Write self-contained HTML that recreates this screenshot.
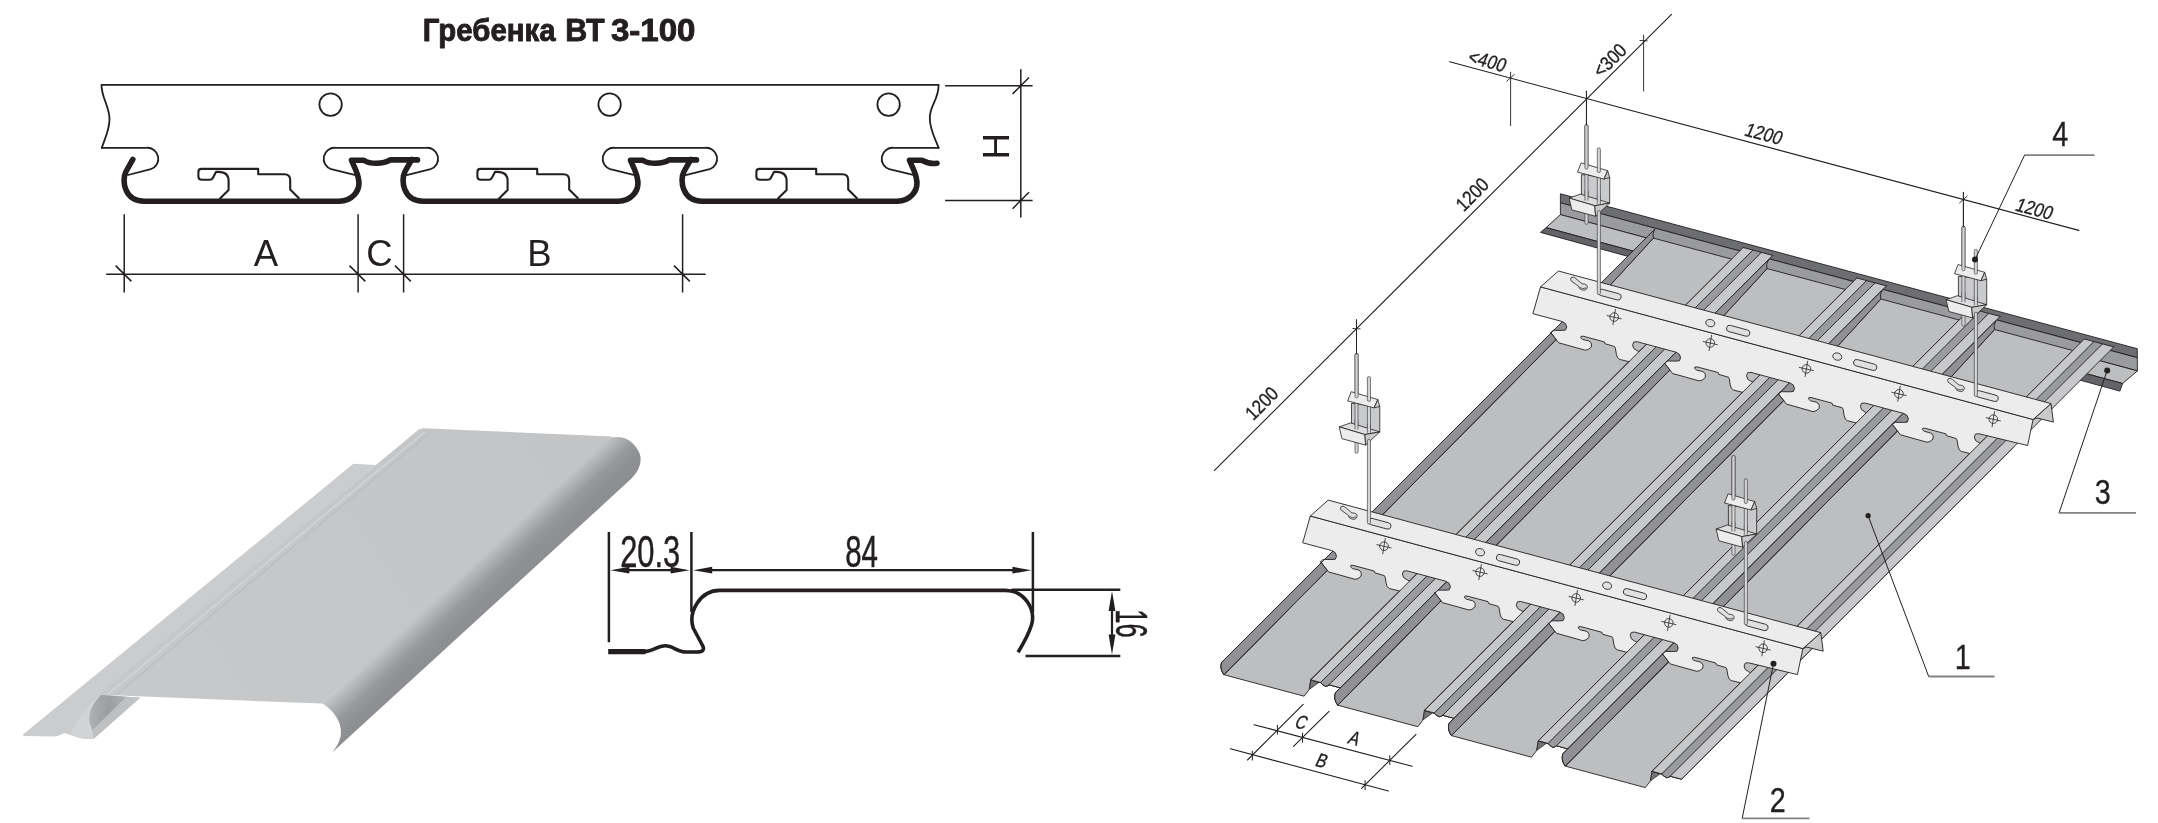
<!DOCTYPE html>
<html><head><meta charset="utf-8"><title>Гребенка ВТ 3-100</title>
<style>html,body{margin:0;padding:0;background:#fff}svg{display:block;will-change:transform}text{font-family:"Liberation Sans",sans-serif}</style></head>
<body><svg width="2158" height="823" viewBox="0 0 2158 823">
<rect width="2158" height="823" fill="#ffffff"/>
<defs>
<linearGradient id="gside" gradientUnits="userSpaceOnUse" x1="466.8" y1="571.3" x2="496.5" y2="603">
<stop offset="0" stop-color="#c3c4c6"/><stop offset="0.15" stop-color="#b4b5b8"/><stop offset="0.45" stop-color="#999a9d"/><stop offset="0.7" stop-color="#8f9093"/><stop offset="1" stop-color="#8d8e91"/>
</linearGradient>
<linearGradient id="gface" gradientUnits="userSpaceOnUse" x1="150" y1="700" x2="560" y2="430">
<stop offset="0" stop-color="#c7c8ca"/><stop offset="1" stop-color="#c3c4c6"/>
</linearGradient>
<linearGradient id="gcurl" gradientUnits="userSpaceOnUse" x1="88" y1="715" x2="135" y2="715">
<stop offset="0" stop-color="#b0b1b4"/><stop offset="0.45" stop-color="#9c9da0"/><stop offset="1" stop-color="#b8b9bc"/>
</linearGradient>
</defs>
<path fill="#cbccce" d="M353.4,463.8 L375.8,465.1 L101,694.8 L140,697.7 L93.3,739 L81.6,738.6 L64.1,733.1 Q58,736.6 53.5,736.6 L23.3,736 L23.3,734.2 Z"/>
<path fill="url(#gcurl)" d="M101,694.8 L140,697.7 L93.5,738.8 L91.4,727.9 Q84,712 101,694.8 Z"/>
<path fill="#c3c4c6" d="M126,697 L140,697.7 L93.5,738.8 L84,738.6 Z" opacity="0.85"/>
<path fill="#d2d3d5" d="M101,694.8 Q84,712 91.4,727.9 L93.5,738.8 L81.6,738.6 L70,735 Q80,712 99,695.5 Z"/>
<path fill="url(#gside)" d="M606,437.5 L618.8,436.9 Q633,438 640,454.4 Q643,466 632,478 L600,507.5 L332.4,752.3 Q341,741 341,733 Q341,716 322.6,703.6 Z"/>
<path fill="url(#gface)" d="M423.5,428.3 L612,436.6 L322.6,703.6 L101,694.8 Q99,694.5 101,692.6 L417,431 Q420,428.2 423.5,428.3 Z"/>
<path d="M424.5,432 L107,695" stroke="#d3d4d6" stroke-width="1.6" fill="none"/>
<path d="M430,432.5 L116,695.3" stroke="#bcbdbf" stroke-width="1.2" fill="none"/>
<g font-family="'Liberation Sans',sans-serif" font-weight="bold" font-size="31.3" fill="#231f20" stroke="#231f20" stroke-width="0.9" stroke-linejoin="round"><text x="422.8" y="40.6" textLength="132.8" lengthAdjust="spacingAndGlyphs">Гребенка</text><text x="565.3" y="40.6" textLength="39.4" lengthAdjust="spacingAndGlyphs">ВТ</text><text x="610.9" y="40.6" textLength="84.6" lengthAdjust="spacingAndGlyphs">3-100</text></g>
<g fill="none" stroke="#231f20" stroke-width="1.8" stroke-linejoin="round" stroke-linecap="round">
<path d="M101.8,147.8 C105,138 109.5,130 109.5,119.2 C109.5,106 101.5,98 101.5,84.9 H938.6 C938.6,100 929.8,105 929.8,117.8 C929.8,130 934.5,137 938.6,147.8"/>
<path d="M101.8,147.8 H146.4 A11,11 0 0 1 150.8,169.2 L128,175"/>
<path d="M354.6,174.8 L331.2,169.2 A11,11 0 0 1 335.6,147.8 H426.2 A11,11 0 0 1 430.6,169.2 L406.6,175.1"/>
<path d="M633.6,174.8 L610.2,169.2 A11,11 0 0 1 614.6,147.8 H705.2 A11,11 0 0 1 709.6,169.2 L685.6,175.1"/>
<path d="M913.2,174.8 L889.2,169.2 A11,11 0 0 1 893.6,147.8 H938.6"/>
<circle cx="330.6" cy="104.6" r="11.2"/>
<circle cx="609.6" cy="104.6" r="11.2"/>
<circle cx="888.6" cy="104.6" r="11.2"/>
</g>
<g fill="none" stroke="#231f20" stroke-width="2.1" stroke-linejoin="round">
<path transform="translate(0,0)" d="M219.5,199.1 L228.6,190 V181 Q228.6,172 218.5,171.9 H216 L212.8,178 Q212,179.8 209.7,179.8 H202 Q198.4,179.8 198.4,176.5 V171.9 Q198.4,168.9 201.4,168.9 H258.2 V174.3 H284.4 Q290.2,174.3 290.2,180.2 V189.6 L299.4,198.7"/>
<path transform="translate(279,0)" d="M219.5,199.1 L228.6,190 V181 Q228.6,172 218.5,171.9 H216 L212.8,178 Q212,179.8 209.7,179.8 H202 Q198.4,179.8 198.4,176.5 V171.9 Q198.4,168.9 201.4,168.9 H258.2 V174.3 H284.4 Q290.2,174.3 290.2,180.2 V189.6 L299.4,198.7"/>
<path transform="translate(558,0)" d="M219.5,199.1 L228.6,190 V181 Q228.6,172 218.5,171.9 H216 L212.8,178 Q212,179.8 209.7,179.8 H202 Q198.4,179.8 198.4,176.5 V171.9 Q198.4,168.9 201.4,168.9 H258.2 V174.3 H284.4 Q290.2,174.3 290.2,180.2 V189.6 L299.4,198.7"/>
</g>
<g fill="none" stroke="#231f20" stroke-width="5.6" stroke-linejoin="round" stroke-linecap="round">
<path transform="translate(0,0)" d="M132.8,159.4 L126,171.5 C121.5,180 124,201.2 144,201.2 H339.2 C352,201.2 360,191 358.8,181.2 C358,172 353.5,166 351.5,160.2  H363.8 C370,164.4 383,164.4 390.2,159.9 H417.5"/>
<path transform="translate(279,0)" d="M132.8,159.4 L126,171.5 C121.5,180 124,201.2 144,201.2 H339.2 C352,201.2 360,191 358.8,181.2 C358,172 353.5,166 351.5,160.2  H363.8 C370,164.4 383,164.4 390.2,159.9 H417.5"/>
<path transform="translate(558,0)" d="M132.8,159.4 L126,171.5 C121.5,180 124,201.2 144,201.2 H339.2 C352,201.2 360,191 358.8,181.2 C358,172 353.5,166 351.5,160.2  H363.8 C368,162.5 373,164 379,163.3"/>
</g>
<g fill="none" stroke="#231f20" stroke-width="1.5">
<path d="M124.2,214.2 V292.6 M115.60000000000001,265.6 L131.4,281.4"/>
<path d="M358.1,214.2 V292.6 M349.5,265.6 L365.3,281.4"/>
<path d="M403.6,214.2 V292.6 M395.0,265.6 L410.8,281.4"/>
<path d="M682.6,214.2 V292.6 M674.0,265.6 L689.8000000000001,281.4"/>
<path d="M106.2,274.2 H705.7"/>
<path d="M945.1,85.7 H1032.6 M945.1,200.5 H1032.6 M1020.8,69.3 V217.4 M1012.6,93.9 L1029,77.5 M1012.6,208.7 L1029,192.3"/>
</g>
<g font-family="'Liberation Sans',sans-serif" font-size="36.5" fill="#231f20" text-anchor="middle">
<text x="265.9" y="266.2">A</text><text x="379.5" y="266.2">C</text><text x="539.5" y="266.2">B</text>
<text transform="translate(1009.2,146.3) rotate(-90)">H</text>
</g>
<g fill="none" stroke="#231f20" stroke-linejoin="round" stroke-linecap="butt">
<path stroke-width="5.3" d="M608.2,651.6 H645.5"/>
<path stroke-width="3.6" d="M644.5,651.6 C653,651.6 657,645.8 665.2,645.8 S677,652 686,652 H697 Q705.5,652 702.8,646 L693.2,628 C688,612 700,590.4 719.7,590.4 H1005.2 C1025,590.4 1036,610 1031.5,625 Q1028,636 1018.1,652.2"/>
<path stroke-width="2.5" d="M608.9,532 V642.3 M691.4,532 V612 M1032.9,532 V612.5 M1011.5,589.7 H1120.3 M1025.5,655.9 H1120.3"/>
<path stroke-width="2.2" d="M620,570.2 H680 M703,570.2 H1022 M1112,600 V645"/>
</g>
<g fill="#231f20">
<path d="M610.4,570.2 L629.4,566.8000000000001 L629.4,573.6 Z"/>
<path d="M689.6,570.2 L670.6,573.6 L670.6,566.8000000000001 Z"/>
<path d="M693.2,570.2 L712.2,566.8000000000001 L712.2,573.6 Z"/>
<path d="M1031.4,570.2 L1012.4000000000001,573.6 L1012.4000000000001,566.8000000000001 Z"/>
<path d="M1112,591 L1115.4,611.0 L1108.6,611.0 Z"/>
<path d="M1112,654.6 L1108.6,634.6 L1115.4,634.6 Z"/>
</g>
<g font-family="'Liberation Sans',sans-serif" font-size="44" fill="#231f20" stroke="#231f20" stroke-width="0.5">
<text x="620.2" y="566.6" textLength="60" lengthAdjust="spacingAndGlyphs">20.3</text>
<text x="845.2" y="566.6" textLength="32.8" lengthAdjust="spacingAndGlyphs">84</text>
<text transform="translate(1115.6,609.3) rotate(90)" textLength="28.4" lengthAdjust="spacingAndGlyphs">16</text>
</g>
<path d="M1560.4,193.8 L2137.3,348.7 L2137.3,357.7 L1560.4,202.8 Z" fill="#6d6e71" stroke="#231f20" stroke-width="0.9" stroke-linejoin="round" />
<path d="M1560.4,202.8 L2137.3,357.7 L2137.4,370.9 L1560.4,214.6 Z" fill="#9a9b9e" stroke="#231f20" stroke-width="0.9" stroke-linejoin="round" />
<path d="M1560.4,214.6 L2137.4,370.9 L2122.6,383.5 L1546.1,227.6 Z" fill="#bdbec0" stroke="#231f20" stroke-width="0.9" stroke-linejoin="round" />
<path d="M1546.1,227.6 L2122.6,383.5 L2119.9,391.1 L1540.5,232.4 Z" fill="#636467" stroke="#231f20" stroke-width="0.9" stroke-linejoin="round" />
<path d="M1223.9,674.7 L1304.1,696.2 L1309.1,689.7 L1310.8,679.9 L1731.6,259.1 L1653.4,238.1 L1610.8,284.5 Z" fill="#bdbec0" stroke="#231f20" stroke-width="0.9" stroke-linejoin="round" />
<path d="M1310.8,679.9 L1309.6,689.2 L1318.8,682.5 Z" fill="#747578" stroke="#231f20" stroke-width="0.7" stroke-linejoin="round" />
<path d="M1223.9,674.7 Q1219.4,668.2 1221.7,662.3 L1654.8,229.2 Q1651.8,234.2 1653.4,238.1 L1610.8,284.5 Z" fill="#909194" stroke="#231f20" stroke-width="0.9" stroke-linejoin="round"/>
<path d="M1310.8,679.9 L1320.5,682.5 L1752.9,250.1 L1743.2,247.5 Z" fill="#c7c8ca" stroke-linejoin="round" />
<path d="M1320.5,682.5 Q1321.5,684.3 1325.4,686.2 Q1327.5,686.3 1329.0,684.8 L1761.4,252.4 L1752.9,250.1 Z" fill="#9a9b9e"/>
<path d="M1329.0,684.8 L1340.3,687.8 L1772.7,255.4 L1761.4,252.4 Z" fill="#c7c8ca" stroke-linejoin="round" />
<path d="M1743.2,247.5 L1310.8,679.9 L1320.5,682.5" fill="none" stroke="#231f20" stroke-width="0.9" stroke-linecap="round" stroke-linejoin="round"/>
<path d="M1320.5,682.5 L1752.9,250.1" fill="none" stroke="#231f20" stroke-width="0.9" stroke-linecap="round" stroke-linejoin="round"/>
<path d="M1329.0,684.8 L1761.4,252.4" fill="none" stroke="#231f20" stroke-width="0.9" stroke-linecap="round" stroke-linejoin="round"/>
<path d="M1329.0,684.8 L1340.3,687.8 L1772.7,255.4" fill="none" stroke="#231f20" stroke-width="0.9" stroke-linecap="round" stroke-linejoin="round"/>
<path d="M1320.5,682.5 Q1321.5,684.3 1325.4,686.2 Q1327.5,686.3 1329.0,684.8" fill="none" stroke="#231f20" stroke-width="0.9"/>
<path d="M1743.2,247.5 L1752.9,250.1 L1761.4,252.4 L1772.7,255.4" fill="none" stroke="#231f20" stroke-width="0.9" stroke-linecap="round" stroke-linejoin="round"/>
<path d="M1337.7,705.2 L1417.8,726.7 L1422.8,720.2 L1424.5,710.4 L1845.4,289.5 L1767.1,268.6 L1724.5,314.9 Z" fill="#bdbec0" stroke="#231f20" stroke-width="0.9" stroke-linejoin="round" />
<path d="M1424.5,710.4 L1423.3,719.7 L1432.5,713.0 Z" fill="#747578" stroke="#231f20" stroke-width="0.7" stroke-linejoin="round" />
<path d="M1337.7,705.2 Q1333.2,698.7 1335.5,692.8 L1768.5,259.7 Q1765.5,264.7 1767.1,268.6 L1724.5,314.9 Z" fill="#909194" stroke="#231f20" stroke-width="0.9" stroke-linejoin="round"/>
<path d="M1424.5,710.4 L1434.2,713.0 L1866.6,280.6 L1856.9,278.0 Z" fill="#c7c8ca" stroke-linejoin="round" />
<path d="M1434.2,713.0 Q1435.2,714.8 1439.1,716.7 Q1441.2,716.8 1442.7,715.3 L1875.1,282.9 L1866.6,280.6 Z" fill="#9a9b9e"/>
<path d="M1442.7,715.3 L1454.0,718.3 L1886.4,285.9 L1875.1,282.9 Z" fill="#c7c8ca" stroke-linejoin="round" />
<path d="M1856.9,278.0 L1424.5,710.4 L1434.2,713.0" fill="none" stroke="#231f20" stroke-width="0.9" stroke-linecap="round" stroke-linejoin="round"/>
<path d="M1434.2,713.0 L1866.6,280.6" fill="none" stroke="#231f20" stroke-width="0.9" stroke-linecap="round" stroke-linejoin="round"/>
<path d="M1442.7,715.3 L1875.1,282.9" fill="none" stroke="#231f20" stroke-width="0.9" stroke-linecap="round" stroke-linejoin="round"/>
<path d="M1442.7,715.3 L1454.0,718.3 L1886.4,285.9" fill="none" stroke="#231f20" stroke-width="0.9" stroke-linecap="round" stroke-linejoin="round"/>
<path d="M1434.2,713.0 Q1435.2,714.8 1439.1,716.7 Q1441.2,716.8 1442.7,715.3" fill="none" stroke="#231f20" stroke-width="0.9"/>
<path d="M1856.9,278.0 L1866.6,280.6 L1875.1,282.9 L1886.4,285.9" fill="none" stroke="#231f20" stroke-width="0.9" stroke-linecap="round" stroke-linejoin="round"/>
<path d="M1451.4,735.6 L1531.5,757.2 L1536.5,750.7 L1538.3,740.8 L1959.1,320.0 L1880.9,299.0 L1838.3,345.4 Z" fill="#bdbec0" stroke="#231f20" stroke-width="0.9" stroke-linejoin="round" />
<path d="M1538.3,740.8 L1537.0,750.2 L1546.3,743.4 Z" fill="#747578" stroke="#231f20" stroke-width="0.7" stroke-linejoin="round" />
<path d="M1451.4,735.6 Q1446.9,729.1 1449.2,723.2 L1882.2,290.2 Q1879.2,295.2 1880.9,299.0 L1838.3,345.4 Z" fill="#909194" stroke="#231f20" stroke-width="0.9" stroke-linejoin="round"/>
<path d="M1538.3,740.8 L1548.0,743.4 L1980.3,311.1 L1970.6,308.5 Z" fill="#c7c8ca" stroke-linejoin="round" />
<path d="M1548.0,743.4 Q1549.0,745.2 1552.8,747.2 Q1555.0,747.2 1556.5,745.7 L1988.8,313.4 L1980.3,311.1 Z" fill="#9a9b9e"/>
<path d="M1556.5,745.7 L1567.7,748.8 L2000.1,316.4 L1988.8,313.4 Z" fill="#c7c8ca" stroke-linejoin="round" />
<path d="M1970.6,308.5 L1538.3,740.8 L1548.0,743.4" fill="none" stroke="#231f20" stroke-width="0.9" stroke-linecap="round" stroke-linejoin="round"/>
<path d="M1548.0,743.4 L1980.3,311.1" fill="none" stroke="#231f20" stroke-width="0.9" stroke-linecap="round" stroke-linejoin="round"/>
<path d="M1556.5,745.7 L1988.8,313.4" fill="none" stroke="#231f20" stroke-width="0.9" stroke-linecap="round" stroke-linejoin="round"/>
<path d="M1556.5,745.7 L1567.7,748.8 L2000.1,316.4" fill="none" stroke="#231f20" stroke-width="0.9" stroke-linecap="round" stroke-linejoin="round"/>
<path d="M1548.0,743.4 Q1549.0,745.2 1552.8,747.2 Q1555.0,747.2 1556.5,745.7" fill="none" stroke="#231f20" stroke-width="0.9"/>
<path d="M1970.6,308.5 L1980.3,311.1 L1988.8,313.4 L2000.1,316.4" fill="none" stroke="#231f20" stroke-width="0.9" stroke-linecap="round" stroke-linejoin="round"/>
<path d="M1565.2,766.1 L1645.3,787.6 L1650.3,781.1 L1652.0,771.3 L2072.8,350.5 L1994.6,329.5 L1952.0,375.9 Z" fill="#bdbec0" stroke="#231f20" stroke-width="0.9" stroke-linejoin="round" />
<path d="M1652.0,771.3 L1650.8,780.6 L1660.0,773.9 Z" fill="#747578" stroke="#231f20" stroke-width="0.7" stroke-linejoin="round" />
<path d="M1565.2,766.1 Q1560.7,759.6 1563.0,753.7 L1995.9,320.7 Q1992.9,325.7 1994.6,329.5 L1952.0,375.9 Z" fill="#909194" stroke="#231f20" stroke-width="0.9" stroke-linejoin="round"/>
<path d="M1652.0,771.3 L1661.7,773.9 L2094.0,341.6 L2084.3,339.0 Z" fill="#c7c8ca" stroke-linejoin="round" />
<path d="M1661.7,773.9 Q1662.7,775.7 1666.5,777.7 Q1668.7,777.7 1670.2,776.2 L2102.5,343.9 L2094.0,341.6 Z" fill="#9a9b9e"/>
<path d="M1670.2,776.2 L1681.5,779.2 L2113.8,346.9 L2102.5,343.9 Z" fill="#c7c8ca" stroke-linejoin="round" />
<path d="M2084.3,339.0 L1652.0,771.3 L1661.7,773.9" fill="none" stroke="#231f20" stroke-width="0.9" stroke-linecap="round" stroke-linejoin="round"/>
<path d="M1661.7,773.9 L2094.0,341.6" fill="none" stroke="#231f20" stroke-width="0.9" stroke-linecap="round" stroke-linejoin="round"/>
<path d="M1670.2,776.2 L2102.5,343.9" fill="none" stroke="#231f20" stroke-width="0.9" stroke-linecap="round" stroke-linejoin="round"/>
<path d="M1670.2,776.2 L1681.5,779.2 L2113.8,346.9" fill="none" stroke="#231f20" stroke-width="0.9" stroke-linecap="round" stroke-linejoin="round"/>
<path d="M1661.7,773.9 Q1662.7,775.7 1666.5,777.7 Q1668.7,777.7 1670.2,776.2" fill="none" stroke="#231f20" stroke-width="0.9"/>
<path d="M2084.3,339.0 L2094.0,341.6 L2102.5,343.9 L2113.8,346.9" fill="none" stroke="#231f20" stroke-width="0.9" stroke-linecap="round" stroke-linejoin="round"/>
<path d="M2051.0,403.6 L2053.4,422.1 L2037.1,418.0 L2033.1,419.5 Z" fill="#c9cacc" stroke="#231f20" stroke-width="0.9" stroke-linejoin="round" />
<path d="M1540.5,286.9 L2033.1,419.5 L2027.6,445.5 L1978.8,433.7 L1975.5,434.0 L1974.3,436.9 L1975.5,440.5 L1978.8,442.6 L1987.7,447.3 L1990.3,451.0 L1971.5,453.9 L1961.3,451.4 L1959.2,449.6 L1958.1,446.4 L1957.0,440.0 L1956.2,438.5 L1946.6,435.7 L1946.0,433.9 L1924.9,428.2 L1922.7,428.4 L1922.4,429.7 L1924.4,431.4 L1930.2,432.8 L1931.9,433.8 L1933.2,436.0 L1933.0,439.1 L1929.9,441.5 L1926.9,442.2 L1900.4,434.8 L1892.4,424.6 L1895.0,422.3 L1903.9,422.4 L1907.2,422.1 L1908.4,419.1 L1907.2,415.6 L1903.9,413.5 L1864.9,403.0 L1861.6,403.3 L1860.4,406.2 L1861.6,409.8 L1864.9,411.9 L1873.8,416.6 L1876.4,420.3 L1857.6,423.3 L1847.4,420.7 L1845.3,419.0 L1844.2,415.8 L1843.1,409.4 L1842.3,407.8 L1832.7,405.1 L1832.1,403.2 L1811.0,397.5 L1808.8,397.7 L1808.5,399.0 L1810.5,400.8 L1816.3,402.1 L1818.0,403.1 L1819.3,405.4 L1819.1,408.4 L1816.0,410.9 L1813.0,411.6 L1786.5,404.1 L1778.5,394.0 L1781.1,391.7 L1790.0,391.8 L1793.3,391.5 L1794.5,388.5 L1793.3,385.0 L1790.0,382.9 L1751.0,372.4 L1747.7,372.7 L1746.5,375.6 L1747.7,379.2 L1751.0,381.3 L1759.9,386.0 L1762.5,389.7 L1743.7,392.6 L1733.5,390.1 L1731.4,388.3 L1730.3,385.1 L1729.2,378.7 L1728.4,377.2 L1718.8,374.4 L1718.2,372.5 L1697.1,366.9 L1694.9,367.1 L1694.6,368.4 L1696.6,370.1 L1702.4,371.5 L1704.1,372.4 L1705.4,374.7 L1705.2,377.7 L1702.1,380.2 L1699.1,380.9 L1672.6,373.5 L1664.6,363.3 L1667.2,361.0 L1676.1,361.1 L1679.4,360.8 L1680.6,357.8 L1679.4,354.3 L1676.1,352.2 L1637.1,341.7 L1633.8,342.0 L1632.6,344.9 L1633.8,348.5 L1637.1,350.6 L1646.0,355.3 L1648.6,359.0 L1629.8,361.9 L1619.6,359.4 L1617.5,357.6 L1616.4,354.4 L1615.3,348.0 L1614.5,346.5 L1604.9,343.7 L1604.3,341.9 L1583.2,336.2 L1581.0,336.4 L1580.7,337.7 L1582.7,339.5 L1588.5,340.8 L1590.2,341.8 L1591.5,344.0 L1591.3,347.1 L1588.2,349.5 L1585.2,350.2 L1558.7,342.8 L1550.7,332.6 L1553.3,330.3 L1562.2,330.4 L1565.5,330.1 L1566.7,327.2 L1565.5,323.6 L1562.2,321.5 L1532.9,313.7 Z" fill="#ececec" stroke="#231f20" stroke-width="0.9" stroke-linejoin="round" />
<path d="M1540.5,286.9 L2033.1,419.5 L2051.0,403.6 L1558.4,271.0 Z" fill="#ececec" stroke="#231f20" stroke-width="0.9" stroke-linejoin="round" />
<path d="M1571.1,277.8 Q1573.1,275.8 1575.6,278.3 L1582.1,283.8 Q1587.6,283.8 1587.3,287.5 Q1586.1,291.3 1581.6,289.8 Q1578.6,288.8 1578.6,286.3 L1571.1,280.8 Q1570.1,279.3 1571.1,277.8 Z" fill="#e0e0e2" stroke="#231f20" stroke-width="0.8"/><path d="M1579.6,287.3 Q1583.1,289.8 1586.1,287.8" fill="none" stroke="#231f20" stroke-width="0.7"/>
<rect x="1598.0" y="291.4" width="23.5" height="6.4" rx="3.2" transform="rotate(15.1 1609.7 294.6)" fill="#e0e0e2" stroke="#231f20" stroke-width="0.8"/>
<ellipse cx="1710.3" cy="323.1" rx="4.6" ry="3.6" transform="rotate(15 1710.3 323.1)" fill="#e0e0e2" stroke="#231f20" stroke-width="0.8"/>
<rect x="1726.2" y="327.6" width="24.0" height="6.4" rx="3.2" transform="rotate(15.1 1738.2 330.8)" fill="#e0e0e2" stroke="#231f20" stroke-width="0.8"/>
<ellipse cx="1837.3" cy="356.6" rx="4.6" ry="3.6" transform="rotate(15 1837.3 356.6)" fill="#e0e0e2" stroke="#231f20" stroke-width="0.8"/>
<rect x="1853.2" y="361.8" width="24.0" height="6.4" rx="3.2" transform="rotate(15.1 1865.2 365.0)" fill="#e0e0e2" stroke="#231f20" stroke-width="0.8"/>
<path d="M1948.1,379.1 Q1950.1,377.1 1952.6,379.6 L1959.1,385.1 Q1964.6,385.1 1964.3,388.8 Q1963.1,392.6 1958.6,391.1 Q1955.6,390.1 1955.6,387.6 L1948.1,382.1 Q1947.1,380.6 1948.1,379.1 Z" fill="#e0e0e2" stroke="#231f20" stroke-width="0.8"/><path d="M1956.6,388.6 Q1960.1,391.1 1963.1,389.1" fill="none" stroke="#231f20" stroke-width="0.7"/>
<rect x="1975.1" y="392.9" width="23.5" height="6.4" rx="3.2" transform="rotate(15.1 1986.9 396.1)" fill="#e0e0e2" stroke="#231f20" stroke-width="0.8"/>
<g fill="none" stroke="#231f20" stroke-width="0.8"><circle cx="1614.2" cy="317.1" r="4.3"/><path d="M1606.7,315.5 L1621.7,318.9 M1615.5,309.1 L1612.9,325.1"/></g>
<g fill="none" stroke="#231f20" stroke-width="0.8"><circle cx="1710.3" cy="343.0" r="4.3"/><path d="M1702.8,341.4 L1717.8,344.8 M1711.6,335.0 L1709.0,351.0"/></g>
<g fill="none" stroke="#231f20" stroke-width="0.8"><circle cx="1806.4" cy="368.9" r="4.3"/><path d="M1798.9,367.3 L1813.9,370.7 M1807.7,360.9 L1805.1,376.9"/></g>
<g fill="none" stroke="#231f20" stroke-width="0.8"><circle cx="1899.0" cy="393.8" r="4.3"/><path d="M1891.5,392.2 L1906.5,395.6 M1900.3,385.8 L1897.7,401.8"/></g>
<g fill="none" stroke="#231f20" stroke-width="0.8"><circle cx="1993.3" cy="419.2" r="4.3"/><path d="M1985.8,417.6 L2000.8,421.0 M1994.6,411.2 L1992.0,427.2"/></g>
<path d="M1310.8,679.9 L1320.5,682.5 L1652.5,350.5 L1642.8,347.9 Z" fill="#c7c8ca" stroke-linejoin="round" />
<path d="M1320.5,682.5 Q1321.5,684.3 1325.4,686.2 Q1327.5,686.3 1329.0,684.8 L1661.0,352.8 L1652.5,350.5 Z" fill="#9a9b9e"/>
<path d="M1329.0,684.8 L1340.3,687.8 L1672.2,355.9 L1661.0,352.8 Z" fill="#c7c8ca" stroke-linejoin="round" />
<path d="M1642.8,347.9 L1310.8,679.9 L1320.5,682.5" fill="none" stroke="#231f20" stroke-width="0.9" stroke-linecap="round" stroke-linejoin="round"/>
<path d="M1320.5,682.5 L1652.5,350.5" fill="none" stroke="#231f20" stroke-width="0.9" stroke-linecap="round" stroke-linejoin="round"/>
<path d="M1329.0,684.8 L1661.0,352.8" fill="none" stroke="#231f20" stroke-width="0.9" stroke-linecap="round" stroke-linejoin="round"/>
<path d="M1329.0,684.8 L1340.3,687.8 L1672.2,355.9" fill="none" stroke="#231f20" stroke-width="0.9" stroke-linecap="round" stroke-linejoin="round"/>
<path d="M1320.5,682.5 Q1321.5,684.3 1325.4,686.2 Q1327.5,686.3 1329.0,684.8" fill="none" stroke="#231f20" stroke-width="0.9"/>
<path d="M1223.9,674.7 Q1219.4,668.2 1221.7,662.3 L1553.9,330.1 L1550.7,332.6 L1556.1,339.6 Z" fill="#909194"/>
<path d="M1556.1,339.6 L1223.9,674.7 Q1219.4,668.2 1221.7,662.3 L1553.9,330.1" fill="none" stroke="#231f20" stroke-width="0.9" stroke-linejoin="round"/>
<path d="M1550.7,332.6 L1556.1,339.6" fill="none" stroke="#231f20" stroke-width="0.9" stroke-linecap="round" stroke-linejoin="round"/>
<path d="M1424.5,710.4 L1434.2,713.0 L1766.1,381.1 L1756.4,378.5 Z" fill="#c7c8ca" stroke-linejoin="round" />
<path d="M1434.2,713.0 Q1435.2,714.8 1439.1,716.7 Q1441.2,716.8 1442.7,715.3 L1774.6,383.4 L1766.1,381.1 Z" fill="#9a9b9e"/>
<path d="M1442.7,715.3 L1454.0,718.3 L1785.9,386.4 L1774.6,383.4 Z" fill="#c7c8ca" stroke-linejoin="round" />
<path d="M1756.4,378.5 L1424.5,710.4 L1434.2,713.0" fill="none" stroke="#231f20" stroke-width="0.9" stroke-linecap="round" stroke-linejoin="round"/>
<path d="M1434.2,713.0 L1766.1,381.1" fill="none" stroke="#231f20" stroke-width="0.9" stroke-linecap="round" stroke-linejoin="round"/>
<path d="M1442.7,715.3 L1774.6,383.4" fill="none" stroke="#231f20" stroke-width="0.9" stroke-linecap="round" stroke-linejoin="round"/>
<path d="M1442.7,715.3 L1454.0,718.3 L1785.9,386.4" fill="none" stroke="#231f20" stroke-width="0.9" stroke-linecap="round" stroke-linejoin="round"/>
<path d="M1434.2,713.0 Q1435.2,714.8 1439.1,716.7 Q1441.2,716.8 1442.7,715.3" fill="none" stroke="#231f20" stroke-width="0.9"/>
<path d="M1337.7,705.2 Q1333.2,698.7 1335.5,692.8 L1667.5,360.7 L1664.6,363.3 L1669.9,370.0 Z" fill="#909194"/>
<path d="M1669.9,370.0 L1337.7,705.2 Q1333.2,698.7 1335.5,692.8 L1667.5,360.7" fill="none" stroke="#231f20" stroke-width="0.9" stroke-linejoin="round"/>
<path d="M1664.6,363.3 L1669.9,370.0" fill="none" stroke="#231f20" stroke-width="0.9" stroke-linecap="round" stroke-linejoin="round"/>
<path d="M1538.3,740.8 L1548.0,743.4 L1879.7,411.7 L1870.0,409.1 Z" fill="#c7c8ca" stroke-linejoin="round" />
<path d="M1548.0,743.4 Q1549.0,745.2 1552.8,747.2 Q1555.0,747.2 1556.5,745.7 L1888.2,414.0 L1879.7,411.7 Z" fill="#9a9b9e"/>
<path d="M1556.5,745.7 L1567.7,748.8 L1899.5,417.0 L1888.2,414.0 Z" fill="#c7c8ca" stroke-linejoin="round" />
<path d="M1870.0,409.1 L1538.3,740.8 L1548.0,743.4" fill="none" stroke="#231f20" stroke-width="0.9" stroke-linecap="round" stroke-linejoin="round"/>
<path d="M1548.0,743.4 L1879.7,411.7" fill="none" stroke="#231f20" stroke-width="0.9" stroke-linecap="round" stroke-linejoin="round"/>
<path d="M1556.5,745.7 L1888.2,414.0" fill="none" stroke="#231f20" stroke-width="0.9" stroke-linecap="round" stroke-linejoin="round"/>
<path d="M1556.5,745.7 L1567.7,748.8 L1899.5,417.0" fill="none" stroke="#231f20" stroke-width="0.9" stroke-linecap="round" stroke-linejoin="round"/>
<path d="M1548.0,743.4 Q1549.0,745.2 1552.8,747.2 Q1555.0,747.2 1556.5,745.7" fill="none" stroke="#231f20" stroke-width="0.9"/>
<path d="M1451.4,735.6 Q1446.9,729.1 1449.2,723.2 L1781.1,391.3 L1778.5,394.0 L1783.6,400.5 Z" fill="#909194"/>
<path d="M1783.6,400.5 L1451.4,735.6 Q1446.9,729.1 1449.2,723.2 L1781.1,391.3" fill="none" stroke="#231f20" stroke-width="0.9" stroke-linejoin="round"/>
<path d="M1778.5,394.0 L1783.6,400.5" fill="none" stroke="#231f20" stroke-width="0.9" stroke-linecap="round" stroke-linejoin="round"/>
<path d="M1652.0,771.3 L1661.7,773.9 L1993.3,442.3 L1983.6,439.7 Z" fill="#c7c8ca" stroke-linejoin="round" />
<path d="M1661.7,773.9 Q1662.7,775.7 1666.5,777.7 Q1668.7,777.7 1670.2,776.2 L2001.8,444.6 L1993.3,442.3 Z" fill="#9a9b9e"/>
<path d="M1670.2,776.2 L1681.5,779.2 L2013.1,447.6 L2001.8,444.6 Z" fill="#c7c8ca" stroke-linejoin="round" />
<path d="M1983.6,439.7 L1652.0,771.3 L1661.7,773.9" fill="none" stroke="#231f20" stroke-width="0.9" stroke-linecap="round" stroke-linejoin="round"/>
<path d="M1661.7,773.9 L1993.3,442.3" fill="none" stroke="#231f20" stroke-width="0.9" stroke-linecap="round" stroke-linejoin="round"/>
<path d="M1670.2,776.2 L2001.8,444.6" fill="none" stroke="#231f20" stroke-width="0.9" stroke-linecap="round" stroke-linejoin="round"/>
<path d="M1670.2,776.2 L1681.5,779.2 L2013.1,447.6" fill="none" stroke="#231f20" stroke-width="0.9" stroke-linecap="round" stroke-linejoin="round"/>
<path d="M1661.7,773.9 Q1662.7,775.7 1666.5,777.7 Q1668.7,777.7 1670.2,776.2" fill="none" stroke="#231f20" stroke-width="0.9"/>
<path d="M1565.2,766.1 Q1560.7,759.6 1563.0,753.7 L1894.7,421.9 L1892.4,424.6 L1897.4,430.9 Z" fill="#909194"/>
<path d="M1897.4,430.9 L1565.2,766.1 Q1560.7,759.6 1563.0,753.7 L1894.7,421.9" fill="none" stroke="#231f20" stroke-width="0.9" stroke-linejoin="round"/>
<path d="M1892.4,424.6 L1897.4,430.9" fill="none" stroke="#231f20" stroke-width="0.9" stroke-linecap="round" stroke-linejoin="round"/>
<path d="M1820.8,632.7 L1823.2,651.2 L1806.9,647.1 L1802.9,648.6 Z" fill="#c9cacc" stroke="#231f20" stroke-width="0.9" stroke-linejoin="round" />
<path d="M1310.3,516.0 L1802.9,648.6 L1797.4,674.6 L1748.6,662.8 L1745.3,663.1 L1744.1,666.0 L1745.3,669.6 L1748.6,671.7 L1757.5,676.4 L1760.1,680.1 L1741.3,683.0 L1731.1,680.5 L1729.0,678.7 L1727.9,675.5 L1726.8,669.1 L1726.0,667.6 L1716.4,664.8 L1715.8,663.0 L1694.7,657.3 L1692.5,657.5 L1692.2,658.8 L1694.2,660.5 L1700.0,661.9 L1701.7,662.9 L1703.0,665.1 L1702.8,668.2 L1699.7,670.6 L1696.7,671.3 L1670.2,663.9 L1662.2,653.7 L1664.8,651.4 L1673.7,651.5 L1677.0,651.2 L1678.2,648.2 L1677.0,644.7 L1673.7,642.6 L1634.7,632.1 L1631.4,632.4 L1630.2,635.3 L1631.4,638.9 L1634.7,641.0 L1643.6,645.7 L1646.2,649.4 L1627.4,652.4 L1617.2,649.8 L1615.1,648.1 L1614.0,644.9 L1612.9,638.5 L1612.1,636.9 L1602.5,634.2 L1601.9,632.3 L1580.8,626.6 L1578.6,626.8 L1578.3,628.1 L1580.3,629.9 L1586.1,631.2 L1587.8,632.2 L1589.1,634.5 L1588.9,637.5 L1585.8,640.0 L1582.8,640.7 L1556.3,633.2 L1548.3,623.1 L1550.9,620.8 L1559.8,620.9 L1563.1,620.6 L1564.3,617.6 L1563.1,614.1 L1559.8,612.0 L1520.8,601.5 L1517.5,601.8 L1516.3,604.7 L1517.5,608.3 L1520.8,610.4 L1529.7,615.1 L1532.3,618.8 L1513.5,621.7 L1503.3,619.2 L1501.2,617.4 L1500.1,614.2 L1499.0,607.8 L1498.2,606.3 L1488.6,603.5 L1488.0,601.6 L1466.9,596.0 L1464.7,596.2 L1464.4,597.5 L1466.4,599.2 L1472.2,600.6 L1473.9,601.5 L1475.2,603.8 L1475.0,606.8 L1471.9,609.3 L1468.9,610.0 L1442.4,602.6 L1434.4,592.4 L1437.0,590.1 L1445.9,590.2 L1449.2,589.9 L1450.4,586.9 L1449.2,583.4 L1445.9,581.3 L1406.9,570.8 L1403.6,571.1 L1402.4,574.0 L1403.6,577.6 L1406.9,579.7 L1415.8,584.4 L1418.4,588.1 L1399.6,591.0 L1389.4,588.5 L1387.3,586.7 L1386.2,583.5 L1385.1,577.1 L1384.3,575.6 L1374.7,572.8 L1374.1,571.0 L1353.0,565.3 L1350.8,565.5 L1350.5,566.8 L1352.5,568.6 L1358.3,569.9 L1360.0,570.9 L1361.3,573.1 L1361.1,576.2 L1358.0,578.6 L1355.0,579.3 L1328.5,571.9 L1320.5,561.7 L1323.1,559.4 L1332.0,559.5 L1335.3,559.2 L1336.5,556.3 L1335.3,552.7 L1332.0,550.6 L1302.7,542.8 Z" fill="#ececec" stroke="#231f20" stroke-width="0.9" stroke-linejoin="round" />
<path d="M1310.3,516.0 L1802.9,648.6 L1820.8,632.7 L1328.2,500.1 Z" fill="#ececec" stroke="#231f20" stroke-width="0.9" stroke-linejoin="round" />
<path d="M1340.9,506.9 Q1342.9,504.9 1345.4,507.4 L1351.9,512.9 Q1357.4,512.9 1357.1,516.6 Q1355.9,520.4 1351.4,518.9 Q1348.4,517.9 1348.4,515.4 L1340.9,509.9 Q1339.9,508.4 1340.9,506.9 Z" fill="#e0e0e2" stroke="#231f20" stroke-width="0.8"/><path d="M1349.4,516.4 Q1352.9,518.9 1355.9,516.9" fill="none" stroke="#231f20" stroke-width="0.7"/>
<rect x="1367.8" y="520.5" width="23.5" height="6.4" rx="3.2" transform="rotate(15.1 1379.5 523.7)" fill="#e0e0e2" stroke="#231f20" stroke-width="0.8"/>
<ellipse cx="1480.1" cy="552.2" rx="4.6" ry="3.6" transform="rotate(15 1480.1 552.2)" fill="#e0e0e2" stroke="#231f20" stroke-width="0.8"/>
<rect x="1496.0" y="556.7" width="24.0" height="6.4" rx="3.2" transform="rotate(15.1 1508.0 559.9)" fill="#e0e0e2" stroke="#231f20" stroke-width="0.8"/>
<ellipse cx="1607.1" cy="585.7" rx="4.6" ry="3.6" transform="rotate(15 1607.1 585.7)" fill="#e0e0e2" stroke="#231f20" stroke-width="0.8"/>
<rect x="1623.0" y="590.9" width="24.0" height="6.4" rx="3.2" transform="rotate(15.1 1635.0 594.1)" fill="#e0e0e2" stroke="#231f20" stroke-width="0.8"/>
<path d="M1717.9,608.2 Q1719.9,606.2 1722.4,608.7 L1728.9,614.2 Q1734.4,614.2 1734.1,617.9 Q1732.9,621.7 1728.4,620.2 Q1725.4,619.2 1725.4,616.7 L1717.9,611.2 Q1716.9,609.7 1717.9,608.2 Z" fill="#e0e0e2" stroke="#231f20" stroke-width="0.8"/><path d="M1726.4,617.7 Q1729.9,620.2 1732.9,618.2" fill="none" stroke="#231f20" stroke-width="0.7"/>
<rect x="1744.9" y="622.0" width="23.5" height="6.4" rx="3.2" transform="rotate(15.1 1756.7 625.2)" fill="#e0e0e2" stroke="#231f20" stroke-width="0.8"/>
<g fill="none" stroke="#231f20" stroke-width="0.8"><circle cx="1384.0" cy="546.2" r="4.3"/><path d="M1376.5,544.6 L1391.5,548.0 M1385.3,538.2 L1382.7,554.2"/></g>
<g fill="none" stroke="#231f20" stroke-width="0.8"><circle cx="1480.1" cy="572.1" r="4.3"/><path d="M1472.6,570.5 L1487.6,573.9 M1481.4,564.1 L1478.8,580.1"/></g>
<g fill="none" stroke="#231f20" stroke-width="0.8"><circle cx="1576.2" cy="598.0" r="4.3"/><path d="M1568.7,596.4 L1583.7,599.8 M1577.5,590.0 L1574.9,606.0"/></g>
<g fill="none" stroke="#231f20" stroke-width="0.8"><circle cx="1668.8" cy="622.9" r="4.3"/><path d="M1661.3,621.3 L1676.3,624.7 M1670.1,614.9 L1667.5,630.9"/></g>
<g fill="none" stroke="#231f20" stroke-width="0.8"><circle cx="1763.1" cy="648.3" r="4.3"/><path d="M1755.6,646.7 L1770.6,650.1 M1764.4,640.3 L1761.8,656.3"/></g>
<path d="M1310.8,679.9 L1320.5,682.5 L1423.1,579.9 L1413.4,577.3 Z" fill="#c7c8ca" stroke-linejoin="round" />
<path d="M1320.5,682.5 Q1321.5,684.3 1325.4,686.2 Q1327.5,686.3 1329.0,684.8 L1431.6,582.2 L1423.1,579.9 Z" fill="#9a9b9e"/>
<path d="M1329.0,684.8 L1340.3,687.8 L1442.9,585.2 L1431.6,582.2 Z" fill="#c7c8ca" stroke-linejoin="round" />
<path d="M1413.4,577.3 L1310.8,679.9 L1320.5,682.5" fill="none" stroke="#231f20" stroke-width="0.9" stroke-linecap="round" stroke-linejoin="round"/>
<path d="M1320.5,682.5 L1423.1,579.9" fill="none" stroke="#231f20" stroke-width="0.9" stroke-linecap="round" stroke-linejoin="round"/>
<path d="M1329.0,684.8 L1431.6,582.2" fill="none" stroke="#231f20" stroke-width="0.9" stroke-linecap="round" stroke-linejoin="round"/>
<path d="M1329.0,684.8 L1340.3,687.8 L1442.9,585.2" fill="none" stroke="#231f20" stroke-width="0.9" stroke-linecap="round" stroke-linejoin="round"/>
<path d="M1320.5,682.5 Q1321.5,684.3 1325.4,686.2 Q1327.5,686.3 1329.0,684.8" fill="none" stroke="#231f20" stroke-width="0.9"/>
<path d="M1223.9,674.7 Q1219.4,668.2 1221.7,662.3 L1324.6,559.4 L1320.5,561.7 L1327.3,570.4 Z" fill="#909194"/>
<path d="M1327.3,570.4 L1223.9,674.7 Q1219.4,668.2 1221.7,662.3 L1324.6,559.4" fill="none" stroke="#231f20" stroke-width="0.9" stroke-linejoin="round"/>
<path d="M1320.5,561.7 L1327.3,570.4" fill="none" stroke="#231f20" stroke-width="0.9" stroke-linecap="round" stroke-linejoin="round"/>
<path d="M1424.5,710.4 L1434.2,713.0 L1536.7,610.5 L1527.1,607.8 Z" fill="#c7c8ca" stroke-linejoin="round" />
<path d="M1434.2,713.0 Q1435.2,714.8 1439.1,716.7 Q1441.2,716.8 1442.7,715.3 L1545.3,612.7 L1536.7,610.5 Z" fill="#9a9b9e"/>
<path d="M1442.7,715.3 L1454.0,718.3 L1556.5,615.8 L1545.3,612.7 Z" fill="#c7c8ca" stroke-linejoin="round" />
<path d="M1527.1,607.8 L1424.5,710.4 L1434.2,713.0" fill="none" stroke="#231f20" stroke-width="0.9" stroke-linecap="round" stroke-linejoin="round"/>
<path d="M1434.2,713.0 L1536.7,610.5" fill="none" stroke="#231f20" stroke-width="0.9" stroke-linecap="round" stroke-linejoin="round"/>
<path d="M1442.7,715.3 L1545.3,612.7" fill="none" stroke="#231f20" stroke-width="0.9" stroke-linecap="round" stroke-linejoin="round"/>
<path d="M1442.7,715.3 L1454.0,718.3 L1556.5,615.8" fill="none" stroke="#231f20" stroke-width="0.9" stroke-linecap="round" stroke-linejoin="round"/>
<path d="M1434.2,713.0 Q1435.2,714.8 1439.1,716.7 Q1441.2,716.8 1442.7,715.3" fill="none" stroke="#231f20" stroke-width="0.9"/>
<path d="M1337.7,705.2 Q1333.2,698.7 1335.5,692.8 L1438.2,590.0 L1434.4,592.4 L1441.0,600.8 Z" fill="#909194"/>
<path d="M1441.0,600.8 L1337.7,705.2 Q1333.2,698.7 1335.5,692.8 L1438.2,590.0" fill="none" stroke="#231f20" stroke-width="0.9" stroke-linejoin="round"/>
<path d="M1434.4,592.4 L1441.0,600.8" fill="none" stroke="#231f20" stroke-width="0.9" stroke-linecap="round" stroke-linejoin="round"/>
<path d="M1538.3,740.8 L1548.0,743.4 L1650.4,641.0 L1640.7,638.4 Z" fill="#c7c8ca" stroke-linejoin="round" />
<path d="M1548.0,743.4 Q1549.0,745.2 1552.8,747.2 Q1555.0,747.2 1556.5,745.7 L1658.9,643.3 L1650.4,641.0 Z" fill="#9a9b9e"/>
<path d="M1556.5,745.7 L1567.7,748.8 L1670.1,646.4 L1658.9,643.3 Z" fill="#c7c8ca" stroke-linejoin="round" />
<path d="M1640.7,638.4 L1538.3,740.8 L1548.0,743.4" fill="none" stroke="#231f20" stroke-width="0.9" stroke-linecap="round" stroke-linejoin="round"/>
<path d="M1548.0,743.4 L1650.4,641.0" fill="none" stroke="#231f20" stroke-width="0.9" stroke-linecap="round" stroke-linejoin="round"/>
<path d="M1556.5,745.7 L1658.9,643.3" fill="none" stroke="#231f20" stroke-width="0.9" stroke-linecap="round" stroke-linejoin="round"/>
<path d="M1556.5,745.7 L1567.7,748.8 L1670.1,646.4" fill="none" stroke="#231f20" stroke-width="0.9" stroke-linecap="round" stroke-linejoin="round"/>
<path d="M1548.0,743.4 Q1549.0,745.2 1552.8,747.2 Q1555.0,747.2 1556.5,745.7" fill="none" stroke="#231f20" stroke-width="0.9"/>
<path d="M1451.4,735.6 Q1446.9,729.1 1449.2,723.2 L1551.8,620.6 L1548.3,623.1 L1554.8,631.3 Z" fill="#909194"/>
<path d="M1554.8,631.3 L1451.4,735.6 Q1446.9,729.1 1449.2,723.2 L1551.8,620.6" fill="none" stroke="#231f20" stroke-width="0.9" stroke-linejoin="round"/>
<path d="M1548.3,623.1 L1554.8,631.3" fill="none" stroke="#231f20" stroke-width="0.9" stroke-linecap="round" stroke-linejoin="round"/>
<path d="M1652.0,771.3 L1661.7,773.9 L1764.0,671.6 L1754.3,669.0 Z" fill="#c7c8ca" stroke-linejoin="round" />
<path d="M1661.7,773.9 Q1662.7,775.7 1666.5,777.7 Q1668.7,777.7 1670.2,776.2 L1772.5,673.9 L1764.0,671.6 Z" fill="#9a9b9e"/>
<path d="M1670.2,776.2 L1681.5,779.2 L1783.7,677.0 L1772.5,673.9 Z" fill="#c7c8ca" stroke-linejoin="round" />
<path d="M1754.3,669.0 L1652.0,771.3 L1661.7,773.9" fill="none" stroke="#231f20" stroke-width="0.9" stroke-linecap="round" stroke-linejoin="round"/>
<path d="M1661.7,773.9 L1764.0,671.6" fill="none" stroke="#231f20" stroke-width="0.9" stroke-linecap="round" stroke-linejoin="round"/>
<path d="M1670.2,776.2 L1772.5,673.9" fill="none" stroke="#231f20" stroke-width="0.9" stroke-linecap="round" stroke-linejoin="round"/>
<path d="M1670.2,776.2 L1681.5,779.2 L1783.7,677.0" fill="none" stroke="#231f20" stroke-width="0.9" stroke-linecap="round" stroke-linejoin="round"/>
<path d="M1661.7,773.9 Q1662.7,775.7 1666.5,777.7 Q1668.7,777.7 1670.2,776.2" fill="none" stroke="#231f20" stroke-width="0.9"/>
<path d="M1565.2,766.1 Q1560.7,759.6 1563.0,753.7 L1665.4,651.2 L1662.2,653.7 L1668.5,661.7 Z" fill="#909194"/>
<path d="M1668.5,661.7 L1565.2,766.1 Q1560.7,759.6 1563.0,753.7 L1665.4,651.2" fill="none" stroke="#231f20" stroke-width="0.9" stroke-linejoin="round"/>
<path d="M1662.2,653.7 L1668.5,661.7" fill="none" stroke="#231f20" stroke-width="0.9" stroke-linecap="round" stroke-linejoin="round"/>
<path d="M1586.4,91.0 L1586.4,132.6" fill="none" stroke="#231f20" stroke-width="0.9" stroke-linecap="round" stroke-linejoin="round"/>
<rect x="1584.9" y="124.6" width="3.1" height="99.8" rx="1.5" fill="#d4d5d7" stroke="#3a3a3c" stroke-width="0.65"/>
<path d="M1581.4,174.6 L1609.7,177.6 L1609.7,203.1 L1594.8,205.7 L1581.4,200.6 Z" fill="#c9cacc" stroke="#231f20" stroke-width="0.8" stroke-linejoin="round" />
<rect x="1584.9" y="172.6" width="3.1" height="30.0" fill="#d4d5d7"/><path d="M1584.9,172.6 V202.6 M1588.0,172.6 V202.6" stroke="#3a3a3c" stroke-width="0.65" fill="none"/>
<rect x="1597.3" y="172.6" width="3.1" height="32.0" fill="#d4d5d7"/><path d="M1597.3,172.6 V204.6 M1600.4,172.6 V204.6" stroke="#3a3a3c" stroke-width="0.65" fill="none"/>
<path d="M1577.5,172.1 L1581.1,162.9 L1607.7,170.7 L1604.0,179.1 Z" fill="#ececec" stroke="#231f20" stroke-width="0.8" stroke-linejoin="round" />
<path d="M1607.7,170.7 L1609.7,177.6 L1604.0,179.1 Z" fill="#c9cacc" stroke="#231f20" stroke-width="0.8" stroke-linejoin="round" />
<rect x="1584.9" y="124.6" width="3.1" height="44.5" rx="1.5" fill="#d4d5d7" stroke="#3a3a3c" stroke-width="0.65"/>
<rect x="1597.3" y="147.8" width="3.1" height="24.8" rx="1.5" fill="#d4d5d7" stroke="#3a3a3c" stroke-width="0.65"/>
<path d="M1569.1,198.1 L1580.4,194.1 L1609.7,203.1 L1594.8,205.7 Z" fill="#dcdddf" stroke="#231f20" stroke-width="0.8" stroke-linejoin="round" />
<rect x="1584.9" y="190.6" width="3.1" height="10.0" fill="#d4d5d7"/><path d="M1584.9,190.6 V200.6 M1588.0,190.6 V200.6" stroke="#3a3a3c" stroke-width="0.65" fill="none"/>
<rect x="1597.3" y="194.6" width="3.1" height="9.3" fill="#d4d5d7"/><path d="M1597.3,194.6 V203.9 M1600.4,194.6 V203.9" stroke="#3a3a3c" stroke-width="0.65" fill="none"/>
<path d="M1569.1,198.1 L1594.8,205.7 L1595.6,216.3 L1571.9,209.9 Z" fill="#ececec" stroke="#231f20" stroke-width="0.8" stroke-linejoin="round" />
<path d="M1594.8,205.7 L1609.7,203.1 L1595.6,216.3 Z" fill="#c9cacc" stroke="#231f20" stroke-width="0.8" stroke-linejoin="round" />
<rect x="1597.3" y="210.6" width="3.1" height="84.0" rx="1.5" fill="#d4d5d7" stroke="#3a3a3c" stroke-width="0.65"/>
<path d="M1963.4,192.6 L1963.4,234.2" fill="none" stroke="#231f20" stroke-width="0.9" stroke-linecap="round" stroke-linejoin="round"/>
<rect x="1961.9" y="226.2" width="3.1" height="99.8" rx="1.5" fill="#d4d5d7" stroke="#3a3a3c" stroke-width="0.65"/>
<path d="M1958.4,276.2 L1986.7,279.2 L1986.7,304.7 L1971.8,307.3 L1958.4,302.2 Z" fill="#c9cacc" stroke="#231f20" stroke-width="0.8" stroke-linejoin="round" />
<rect x="1961.9" y="274.2" width="3.1" height="30.0" fill="#d4d5d7"/><path d="M1961.9,274.2 V304.2 M1965.0,274.2 V304.2" stroke="#3a3a3c" stroke-width="0.65" fill="none"/>
<rect x="1974.3" y="274.2" width="3.1" height="32.0" fill="#d4d5d7"/><path d="M1974.3,274.2 V306.2 M1977.4,274.2 V306.2" stroke="#3a3a3c" stroke-width="0.65" fill="none"/>
<path d="M1954.5,273.7 L1958.1,264.5 L1984.7,272.3 L1981.0,280.7 Z" fill="#ececec" stroke="#231f20" stroke-width="0.8" stroke-linejoin="round" />
<path d="M1984.7,272.3 L1986.7,279.2 L1981.0,280.7 Z" fill="#c9cacc" stroke="#231f20" stroke-width="0.8" stroke-linejoin="round" />
<rect x="1961.9" y="226.2" width="3.1" height="44.5" rx="1.5" fill="#d4d5d7" stroke="#3a3a3c" stroke-width="0.65"/>
<rect x="1974.3" y="249.4" width="3.1" height="24.8" rx="1.5" fill="#d4d5d7" stroke="#3a3a3c" stroke-width="0.65"/>
<path d="M1946.1,299.7 L1957.4,295.7 L1986.7,304.7 L1971.8,307.3 Z" fill="#dcdddf" stroke="#231f20" stroke-width="0.8" stroke-linejoin="round" />
<rect x="1961.9" y="292.2" width="3.1" height="10.0" fill="#d4d5d7"/><path d="M1961.9,292.2 V302.2 M1965.0,292.2 V302.2" stroke="#3a3a3c" stroke-width="0.65" fill="none"/>
<rect x="1974.3" y="296.2" width="3.1" height="9.3" fill="#d4d5d7"/><path d="M1974.3,296.2 V305.5 M1977.4,296.2 V305.5" stroke="#3a3a3c" stroke-width="0.65" fill="none"/>
<path d="M1946.1,299.7 L1971.8,307.3 L1972.6,317.9 L1948.9,311.5 Z" fill="#ececec" stroke="#231f20" stroke-width="0.8" stroke-linejoin="round" />
<path d="M1971.8,307.3 L1986.7,304.7 L1972.6,317.9 Z" fill="#c9cacc" stroke="#231f20" stroke-width="0.8" stroke-linejoin="round" />
<rect x="1974.3" y="312.2" width="3.1" height="84.3" rx="1.5" fill="#d4d5d7" stroke="#3a3a3c" stroke-width="0.65"/>
<path d="M1356.5,319.8 L1356.5,361.4" fill="none" stroke="#231f20" stroke-width="0.9" stroke-linecap="round" stroke-linejoin="round"/>
<rect x="1355.0" y="353.4" width="3.1" height="99.8" rx="1.5" fill="#d4d5d7" stroke="#3a3a3c" stroke-width="0.65"/>
<path d="M1351.5,403.4 L1379.8,406.4 L1379.8,431.9 L1364.9,434.5 L1351.5,429.4 Z" fill="#c9cacc" stroke="#231f20" stroke-width="0.8" stroke-linejoin="round" />
<rect x="1355.0" y="401.4" width="3.1" height="30.0" fill="#d4d5d7"/><path d="M1355.0,401.4 V431.4 M1358.0,401.4 V431.4" stroke="#3a3a3c" stroke-width="0.65" fill="none"/>
<rect x="1367.4" y="401.4" width="3.1" height="32.0" fill="#d4d5d7"/><path d="M1367.4,401.4 V433.4 M1370.5,401.4 V433.4" stroke="#3a3a3c" stroke-width="0.65" fill="none"/>
<path d="M1347.6,400.9 L1351.2,391.7 L1377.8,399.5 L1374.1,407.9 Z" fill="#ececec" stroke="#231f20" stroke-width="0.8" stroke-linejoin="round" />
<path d="M1377.8,399.5 L1379.8,406.4 L1374.1,407.9 Z" fill="#c9cacc" stroke="#231f20" stroke-width="0.8" stroke-linejoin="round" />
<rect x="1355.0" y="353.4" width="3.1" height="44.5" rx="1.5" fill="#d4d5d7" stroke="#3a3a3c" stroke-width="0.65"/>
<rect x="1367.4" y="376.6" width="3.1" height="24.8" rx="1.5" fill="#d4d5d7" stroke="#3a3a3c" stroke-width="0.65"/>
<path d="M1339.2,426.9 L1350.5,422.9 L1379.8,431.9 L1364.9,434.5 Z" fill="#dcdddf" stroke="#231f20" stroke-width="0.8" stroke-linejoin="round" />
<rect x="1355.0" y="419.4" width="3.1" height="10.0" fill="#d4d5d7"/><path d="M1355.0,419.4 V429.4 M1358.0,419.4 V429.4" stroke="#3a3a3c" stroke-width="0.65" fill="none"/>
<rect x="1367.4" y="423.4" width="3.1" height="9.3" fill="#d4d5d7"/><path d="M1367.4,423.4 V432.7 M1370.5,423.4 V432.7" stroke="#3a3a3c" stroke-width="0.65" fill="none"/>
<path d="M1339.2,426.9 L1364.9,434.5 L1365.7,445.1 L1342.0,438.7 Z" fill="#ececec" stroke="#231f20" stroke-width="0.8" stroke-linejoin="round" />
<path d="M1364.9,434.5 L1379.8,431.9 L1365.7,445.1 Z" fill="#c9cacc" stroke="#231f20" stroke-width="0.8" stroke-linejoin="round" />
<rect x="1367.4" y="439.4" width="3.1" height="84.6" rx="1.5" fill="#d4d5d7" stroke="#3a3a3c" stroke-width="0.65"/>
<rect x="1731.9" y="455.5" width="3.1" height="99.8" rx="1.5" fill="#d4d5d7" stroke="#3a3a3c" stroke-width="0.65"/>
<path d="M1728.4,505.5 L1756.7,508.5 L1756.7,534.0 L1741.8,536.6 L1728.4,531.5 Z" fill="#c9cacc" stroke="#231f20" stroke-width="0.8" stroke-linejoin="round" />
<rect x="1731.9" y="503.5" width="3.1" height="30.0" fill="#d4d5d7"/><path d="M1731.9,503.5 V533.5 M1735.0,503.5 V533.5" stroke="#3a3a3c" stroke-width="0.65" fill="none"/>
<rect x="1744.3" y="503.5" width="3.1" height="32.0" fill="#d4d5d7"/><path d="M1744.3,503.5 V535.5 M1747.4,503.5 V535.5" stroke="#3a3a3c" stroke-width="0.65" fill="none"/>
<path d="M1724.5,503.0 L1728.1,493.8 L1754.7,501.6 L1751.0,510.0 Z" fill="#ececec" stroke="#231f20" stroke-width="0.8" stroke-linejoin="round" />
<path d="M1754.7,501.6 L1756.7,508.5 L1751.0,510.0 Z" fill="#c9cacc" stroke="#231f20" stroke-width="0.8" stroke-linejoin="round" />
<rect x="1731.9" y="455.5" width="3.1" height="44.5" rx="1.5" fill="#d4d5d7" stroke="#3a3a3c" stroke-width="0.65"/>
<rect x="1744.3" y="478.7" width="3.1" height="24.8" rx="1.5" fill="#d4d5d7" stroke="#3a3a3c" stroke-width="0.65"/>
<path d="M1716.1,529.0 L1727.4,525.0 L1756.7,534.0 L1741.8,536.6 Z" fill="#dcdddf" stroke="#231f20" stroke-width="0.8" stroke-linejoin="round" />
<rect x="1731.9" y="521.5" width="3.1" height="10.0" fill="#d4d5d7"/><path d="M1731.9,521.5 V531.5 M1735.0,521.5 V531.5" stroke="#3a3a3c" stroke-width="0.65" fill="none"/>
<rect x="1744.3" y="525.5" width="3.1" height="9.3" fill="#d4d5d7"/><path d="M1744.3,525.5 V534.8 M1747.4,525.5 V534.8" stroke="#3a3a3c" stroke-width="0.65" fill="none"/>
<path d="M1716.1,529.0 L1741.8,536.6 L1742.6,547.2 L1718.9,540.8 Z" fill="#ececec" stroke="#231f20" stroke-width="0.8" stroke-linejoin="round" />
<path d="M1741.8,536.6 L1756.7,534.0 L1742.6,547.2 Z" fill="#c9cacc" stroke="#231f20" stroke-width="0.8" stroke-linejoin="round" />
<rect x="1744.3" y="541.5" width="3.1" height="83.3" rx="1.5" fill="#d4d5d7" stroke="#3a3a3c" stroke-width="0.65"/>
<path d="M1214.5,470.4 L1671.5,14.3" fill="none" stroke="#231f20" stroke-width="1.15" stroke-linecap="round" stroke-linejoin="round"/>
<path d="M1449.6,61.8 L2078.8,230.4" fill="none" stroke="#231f20" stroke-width="1.15" stroke-linecap="round" stroke-linejoin="round"/>
<path d="M1510.6,72.2 L1510.6,125.7" fill="none" stroke="#231f20" stroke-width="0.9" stroke-linecap="round" stroke-linejoin="round"/>
<path d="M1506.8,81.2 L1514.4,74.4" fill="none" stroke="#231f20" stroke-width="0.9" stroke-linecap="round" stroke-linejoin="round"/>
<path d="M1643.6,35.0 L1643.6,91.0" fill="none" stroke="#231f20" stroke-width="0.9" stroke-linecap="round" stroke-linejoin="round"/>
<path d="M1640.0,40.5 L1647.2,40.9" fill="none" stroke="#231f20" stroke-width="0.9" stroke-linecap="round" stroke-linejoin="round"/>
<path d="M1586.5,91.7 L1586.5,125.0" fill="none" stroke="#231f20" stroke-width="0.9" stroke-linecap="round" stroke-linejoin="round"/>
<path d="M1352.9,328.5 L1360.1,328.9" fill="none" stroke="#231f20" stroke-width="0.9" stroke-linecap="round" stroke-linejoin="round"/>
<path d="M1356.5,319.8 L1356.5,354.0" fill="none" stroke="#231f20" stroke-width="0.9" stroke-linecap="round" stroke-linejoin="round"/>
<path d="M1959.6,202.9 L1967.2,196.1" fill="none" stroke="#231f20" stroke-width="0.9" stroke-linecap="round" stroke-linejoin="round"/>
<path d="M1963.4,192.3 L1963.4,227.0" fill="none" stroke="#231f20" stroke-width="0.9" stroke-linecap="round" stroke-linejoin="round"/>
<text transform="translate(1484.9,67.2) rotate(15) skewX(-8)" font-family="'Liberation Sans',sans-serif" font-size="19.5" text-anchor="middle" fill="#231f20" stroke="#231f20" stroke-width="0.35" textLength="38" lengthAdjust="spacingAndGlyphs">&lt;400</text>
<text transform="translate(1614.5,65.0) rotate(-45)" font-family="'Liberation Sans',sans-serif" font-size="19.5" text-anchor="middle" fill="#231f20" stroke="#231f20" stroke-width="0.35" textLength="38" lengthAdjust="spacingAndGlyphs">&lt;300</text>
<text transform="translate(1477.0,199.2) rotate(-45)" font-family="'Liberation Sans',sans-serif" font-size="19.5" text-anchor="middle" fill="#231f20" stroke="#231f20" stroke-width="0.35" textLength="37.5" lengthAdjust="spacingAndGlyphs">1200</text>
<text transform="translate(1266.5,408.0) rotate(-45)" font-family="'Liberation Sans',sans-serif" font-size="19.5" text-anchor="middle" fill="#231f20" stroke="#231f20" stroke-width="0.35" textLength="37.5" lengthAdjust="spacingAndGlyphs">1200</text>
<text transform="translate(1761.4,140.0) rotate(15) skewX(-8)" font-family="'Liberation Sans',sans-serif" font-size="19.5" text-anchor="middle" fill="#231f20" stroke="#231f20" stroke-width="0.35" textLength="37.5" lengthAdjust="spacingAndGlyphs">1200</text>
<text transform="translate(2032.0,215.0) rotate(15) skewX(-8)" font-family="'Liberation Sans',sans-serif" font-size="19.5" text-anchor="middle" fill="#231f20" stroke="#231f20" stroke-width="0.35" textLength="37.5" lengthAdjust="spacingAndGlyphs">1200</text>
<path d="M1254.0,724.7 L1412.2,766.3" fill="none" stroke="#231f20" stroke-width="1.1" stroke-linecap="round" stroke-linejoin="round"/>
<path d="M1230.3,748.7 L1388.4,791.0" fill="none" stroke="#231f20" stroke-width="1.1" stroke-linecap="round" stroke-linejoin="round"/>
<path d="M1247.5,760.0 L1303.2,704.4" fill="none" stroke="#231f20" stroke-width="1.1" stroke-linecap="round" stroke-linejoin="round"/>
<path d="M1293.5,746.3 L1329.0,711.3" fill="none" stroke="#231f20" stroke-width="1.1" stroke-linecap="round" stroke-linejoin="round"/>
<path d="M1361.6,788.3 L1416.0,734.3" fill="none" stroke="#231f20" stroke-width="1.1" stroke-linecap="round" stroke-linejoin="round"/>
<path d="M1252.3,751.1 L1252.3,760.1" fill="none" stroke="#231f20" stroke-width="1.0" stroke-linecap="round" stroke-linejoin="round"/>
<path d="M1277.4,725.3 L1277.4,734.3" fill="none" stroke="#231f20" stroke-width="1.0" stroke-linecap="round" stroke-linejoin="round"/>
<path d="M1302.5,733.2 L1302.5,742.2" fill="none" stroke="#231f20" stroke-width="1.0" stroke-linecap="round" stroke-linejoin="round"/>
<path d="M1389.8,755.6 L1389.8,764.6" fill="none" stroke="#231f20" stroke-width="1.0" stroke-linecap="round" stroke-linejoin="round"/>
<path d="M1365.1,780.7 L1365.1,789.7" fill="none" stroke="#231f20" stroke-width="1.0" stroke-linecap="round" stroke-linejoin="round"/>
<text transform="translate(1298.8,728.3) rotate(15) skewX(-10)" font-family="'Liberation Sans',sans-serif" font-size="19.5" text-anchor="middle" fill="#231f20" stroke="#231f20" stroke-width="0.35" textLength="10.9" lengthAdjust="spacingAndGlyphs">C</text>
<text transform="translate(1351.7,744.4) rotate(15) skewX(-10)" font-family="'Liberation Sans',sans-serif" font-size="19.5" text-anchor="middle" fill="#231f20" stroke="#231f20" stroke-width="0.35" textLength="10.4" lengthAdjust="spacingAndGlyphs">A</text>
<text transform="translate(1319.0,766.8) rotate(15) skewX(-10)" font-family="'Liberation Sans',sans-serif" font-size="19.5" text-anchor="middle" fill="#231f20" stroke="#231f20" stroke-width="0.35" textLength="10.6" lengthAdjust="spacingAndGlyphs">B</text>
<path d="M1975.0,259.6 L2024.6,155.1" fill="none" stroke="#231f20" stroke-width="1.0" stroke-linecap="round" stroke-linejoin="round"/><path d="M2024.6,155.1 L2094.6,155.1" stroke="#808285" stroke-width="1.8" fill="none"/>
<circle cx="1975.0" cy="259.6" r="3.0" fill="#231f20"/>
<text transform="translate(2060.2,146.0) rotate(0)" font-family="'Liberation Sans',sans-serif" font-size="34.5" text-anchor="middle" fill="#231f20" stroke="#231f20" stroke-width="0.3" textLength="16" lengthAdjust="spacingAndGlyphs">4</text>
<path d="M2107.2,370.4 L2059.1,512.9" fill="none" stroke="#231f20" stroke-width="1.0" stroke-linecap="round" stroke-linejoin="round"/><path d="M2059.1,512.9 L2136.0,512.9" stroke="#808285" stroke-width="1.8" fill="none"/>
<circle cx="2107.2" cy="370.4" r="3.0" fill="#231f20"/>
<text transform="translate(2102.8,504.3) rotate(0)" font-family="'Liberation Sans',sans-serif" font-size="34.5" text-anchor="middle" fill="#231f20" stroke="#231f20" stroke-width="0.3" textLength="16" lengthAdjust="spacingAndGlyphs">3</text>
<path d="M1868.1,515.7 L1928.7,676.5" fill="none" stroke="#231f20" stroke-width="1.0" stroke-linecap="round" stroke-linejoin="round"/><path d="M1928.7,676.5 L1994.5,676.5" stroke="#808285" stroke-width="1.8" fill="none"/>
<circle cx="1868.1" cy="515.7" r="2.6" fill="#231f20"/>
<text transform="translate(1962.7,668.6) rotate(0)" font-family="'Liberation Sans',sans-serif" font-size="34.5" text-anchor="middle" fill="#231f20" stroke="#231f20" stroke-width="0.3" textLength="16" lengthAdjust="spacingAndGlyphs">1</text>
<path d="M1773.5,663.7 L1742.2,818.3" fill="none" stroke="#231f20" stroke-width="1.0" stroke-linecap="round" stroke-linejoin="round"/><path d="M1742.2,818.3 L1809.5,818.3" stroke="#808285" stroke-width="1.8" fill="none"/>
<circle cx="1773.5" cy="663.7" r="3.0" fill="#231f20"/>
<text transform="translate(1777.8,811.5) rotate(0)" font-family="'Liberation Sans',sans-serif" font-size="34.5" text-anchor="middle" fill="#231f20" stroke="#231f20" stroke-width="0.3" textLength="16" lengthAdjust="spacingAndGlyphs">2</text>
</svg></body></html>
